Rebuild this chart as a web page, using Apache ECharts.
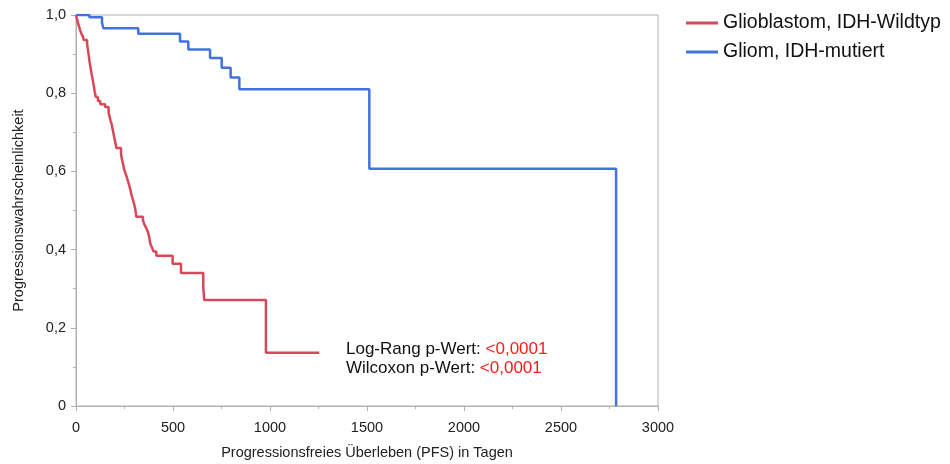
<!DOCTYPE html>
<html>
<head>
<meta charset="utf-8">
<script src="https://cdn.jsdelivr.net/npm/echarts@6/dist/echarts.min.js"></script>
<style>
  html, body { margin: 0; padding: 0; background: #fff; }
  #chart { width: 950px; height: 464px; }
</style>
</head>
<body>
<div id="chart"></div>
<script>
// Kaplan-Meier progression-free survival, two groups

const seriesNames = ['Glioblastom, IDH-Wildtyp', 'Gliom, IDH-mutiert'];

// Glioblastom, IDH-Wildtyp: event day and survival estimate after the event
const wildtypDays = [0, 5, 10, 16, 22, 28, 36, 40, 57, 62, 66, 70, 75, 80, 86, 91, 96, 102,
  113, 125, 150, 168, 173, 178, 184, 190, 196, 202, 208, 232, 237, 242, 248, 255, 262, 268,
  274, 280, 286, 292, 298, 305, 311, 345, 352, 362, 371, 378, 383, 392, 400, 414, 498, 541,
  656, 661, 979, 1254];
const wildtypSurv = [1.0, 0.99, 0.98, 0.97, 0.96, 0.952, 0.944, 0.936, 0.925, 0.91, 0.895, 0.88,
  0.865, 0.85, 0.835, 0.82, 0.805, 0.79, 0.78, 0.772, 0.765, 0.75, 0.74, 0.73, 0.72, 0.705, 0.69,
  0.675, 0.66, 0.645, 0.63, 0.62, 0.605, 0.595, 0.585, 0.575, 0.565, 0.553, 0.54, 0.53, 0.52,
  0.505, 0.484, 0.475, 0.465, 0.455, 0.445, 0.43, 0.415, 0.405, 0.395, 0.384, 0.364, 0.34,
  0.305, 0.271, 0.136, 0.136];

// Gliom, IDH-mutiert
const mutiertDays = [0, 69, 134, 141, 321, 536, 579, 691, 751, 797, 842, 1512, 2784];
const mutiertSurv = [1.0, 0.994, 0.98, 0.966, 0.952, 0.932, 0.912, 0.89, 0.865, 0.84, 0.81, 0.607, 0.0];

const xTicks = [0, 500, 1000, 1500, 2000, 2500, 3000];
const yTicks = [0, 0.2, 0.4, 0.6, 0.8, 1.0];

const pLabels = ['Log-Rang p-Wert: ', 'Wilcoxon p-Wert: '];
const pValues = ['<0,0001', '<0,0001'];

const colors = ['#d9475a', '#4272de'];
const font = '"Liberation Sans", Arial, sans-serif';

const zip = (a, b) => a.map((d, i) => [d, b[i]]);

const chart = echarts.init(document.getElementById('chart'), null, { renderer: 'canvas' });

chart.setOption({
  animation: false,
  textStyle: { fontFamily: font },
  grid: {
    left: 76, right: 292, top: 15, bottom: 58,
    outerBoundsMode: 'none', containLabel: false,
    show: true, borderColor: '#b0b0b0', borderWidth: 1
  },
  legend: {
    orient: 'vertical',
    left: 681, top: 8,
    itemWidth: 32, itemHeight: 3, itemGap: 9,
    icon: 'rect',
    textStyle: { fontSize: 19.5, color: '#111', fontFamily: font },
    data: seriesNames
  },
  xAxis: {
    type: 'value',
    min: xTicks[0], max: xTicks[xTicks.length - 1], interval: 500,
    name: 'Progressionsfreies Überleben (PFS) in Tagen',
    nameLocation: 'middle', nameGap: 39,
    nameTextStyle: { fontSize: 14.5, color: '#222', fontFamily: font },
    axisLine: { lineStyle: { color: '#b0b0b0', width: 1 } },
    axisTick: { length: 5, lineStyle: { color: '#b0b0b0' } },
    minorTick: { show: true, splitNumber: 2, length: 3, lineStyle: { color: '#b0b0b0' } },
    splitLine: { show: false },
    axisLabel: {
      fontSize: 14.5, color: '#222', margin: 14, fontFamily: font,
      formatter: v => String(v)
    }
  },
  yAxis: {
    type: 'value',
    min: yTicks[0], max: yTicks[yTicks.length - 1], interval: 0.2,
    name: 'Progressionswahrscheinlichkeit',
    nameLocation: 'middle', nameGap: 50,
    nameTextStyle: { fontSize: 14.5, color: '#222', fontFamily: font },
    axisLine: { show: true, lineStyle: { color: '#b0b0b0', width: 1 } },
    axisTick: { show: true, length: 5, lineStyle: { color: '#b0b0b0' } },
    minorTick: { show: true, splitNumber: 2, length: 3, lineStyle: { color: '#b0b0b0' } },
    splitLine: { show: false },
    axisLabel: {
      fontSize: 14.5, color: '#222', margin: 10, fontFamily: font,
      formatter: v => (v === 0 ? '0' : v.toFixed(1).replace('.', ','))
    }
  },
  series: [
    {
      name: seriesNames[0],
      type: 'line', step: 'end', showSymbol: false,
      data: zip(wildtypDays, wildtypSurv),
      lineStyle: { color: colors[0], width: 2.5 },
      itemStyle: { color: colors[0] }
    },
    {
      name: seriesNames[1],
      type: 'line', step: 'end', showSymbol: false,
      data: zip(mutiertDays, mutiertSurv),
      lineStyle: { color: colors[1], width: 2.5 },
      itemStyle: { color: colors[1] }
    }
  ],
  graphic: pLabels.map((lab, i) => ({
    type: 'text',
    left: 346, top: 341 + i * 19,
    style: {
      text: '{a|' + lab + '}{b|' + pValues[i] + '}',
      rich: {
        a: { fontSize: 17, fill: '#111', fontFamily: font },
        b: { fontSize: 17, fill: '#ff1a1a', fontFamily: font }
      }
    }
  }))
});
</script>
</body>
</html>
